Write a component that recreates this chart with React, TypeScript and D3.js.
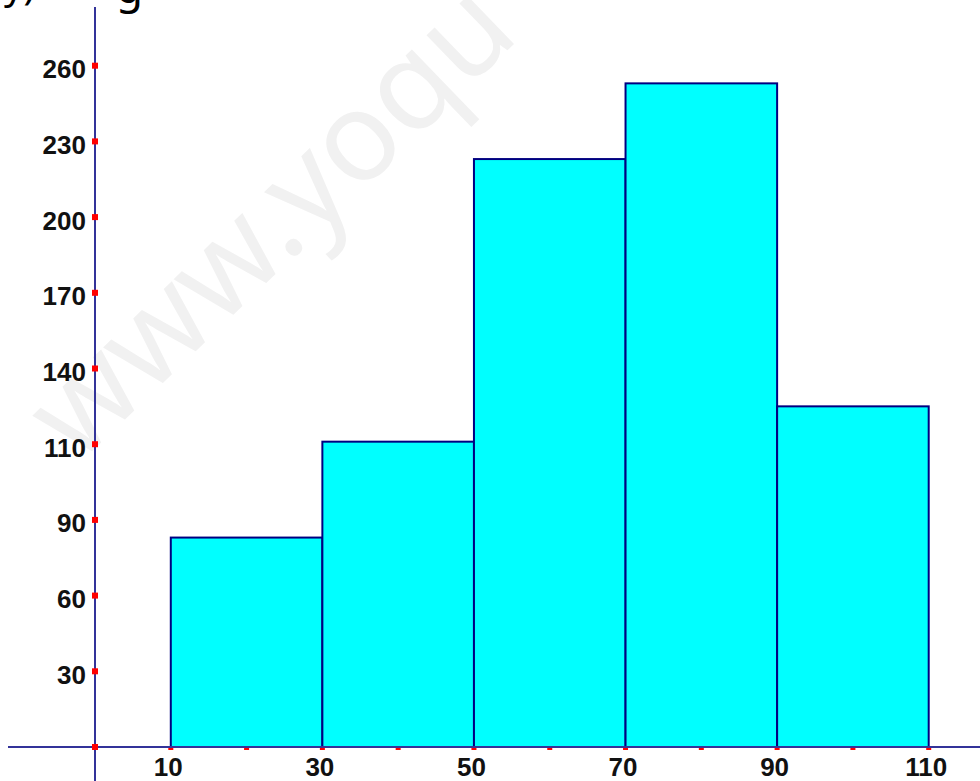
import React from "react";
import * as d3 from "d3";

// Histogram bins (class boundaries) and frequencies
const binEdges = [10, 30, 50, 70, 90, 110];
const frequencies = [83, 111, 223, 253, 125];

// Axis ticks as printed in the reference (labels are irregular: 90 -> 110)
const xTickLabels = [10, 30, 50, 70, 90, 110];
const xMinorTicks = [0, 10, 20, 30, 40, 50, 60, 70, 80, 90, 100, 110];
const yTickLabels = [30, 60, 90, 110, 140, 170, 200, 230, 260];

const W = 980;
const H = 781;
const AXIS = "#333399";
const BAR_STROKE = "#000080";
const FONT = "'Liberation Sans', Arial, sans-serif";

export default function App() {
  const x = d3.scaleLinear().domain([0, 110]).range([95, 928.7]);
  // piecewise linear so that the printed labels sit on their equally spaced marks
  const step = 75.7;
  const y0 = 747;
  const y = d3
    .scaleLinear()
    .domain([0, 90, 110, 260])
    .range([y0, y0 - 3 * step, y0 - 4 * step, y0 - 9 * step]);

  const bins = frequencies.map((f, i) => ({ x0: binEdges[i], x1: binEdges[i + 1], f }));

  return (
    <svg
      width={W}
      height={H}
      style={{ position: "absolute", left: 0, top: 0, background: "#fff" }}
    >
      {/* text cut off by the top edge, as in the reference */}
      <text x={4} y={-1} fontFamily="'Noto Sans', sans-serif" fontSize={38} fill="#000">
        y)
      </text>
      <text x={116} y={3} fontFamily="'Noto Sans', sans-serif" fontSize={44} fill="#000">
        g
      </text>

      {/* watermark */}
      <text
        transform="translate(78,465) rotate(-44)"
        fontFamily="'Noto Sans', sans-serif"
        fontSize={125}
        fill="#f1f1f1"
      >
        www.yoqu
      </text>

      {/* bars */}
      {bins.map((b, i) => (
        <rect
          key={i}
          x={x(b.x0)}
          y={y(b.f)}
          width={x(b.x1) - x(b.x0)}
          height={y(0) - y(b.f)}
          fill="#00FFFF"
          stroke={BAR_STROKE}
          strokeWidth={2}
        />
      ))}

      {/* x-axis red ticks (below axis line) */}
      {xMinorTicks.map((t) => (
        <rect key={"xm" + t} x={x(t) - 2.5} y={y0 - 1} width={5} height={4} fill="#ff0000" />
      ))}

      {/* axes */}
      <line x1={8} x2={W} y1={y0} y2={y0} stroke={AXIS} strokeWidth={2} />
      <line x1={x(0)} x2={x(0)} y1={7} y2={H} stroke={AXIS} strokeWidth={2} />

      {/* y ticks */}
      {yTickLabels.map((t) => (
        <g key={"y" + t}>
          <rect x={x(0) - 3} y={y(t) - 3} width={6} height={6} fill="#ff0000" />
          <text
            x={x(0) - 9}
            y={y(t) + 12.5}
            textAnchor="end"
            fontFamily={FONT}
            fontWeight="bold"
            fontSize={26}
            fill="#111"
          >
            {t}
          </text>
        </g>
      ))}
      <rect x={x(0) - 3} y={y0 - 3} width={6} height={6} fill="#ff0000" />

      {/* x labels */}
      {xTickLabels.map((t) => (
        <text
          key={"x" + t}
          x={x(t) - 2.5}
          y={776}
          textAnchor="middle"
          fontFamily={FONT}
          fontWeight="bold"
          fontSize={26}
          fill="#111"
        >
          {t}
        </text>
      ))}
    </svg>
  );
}
